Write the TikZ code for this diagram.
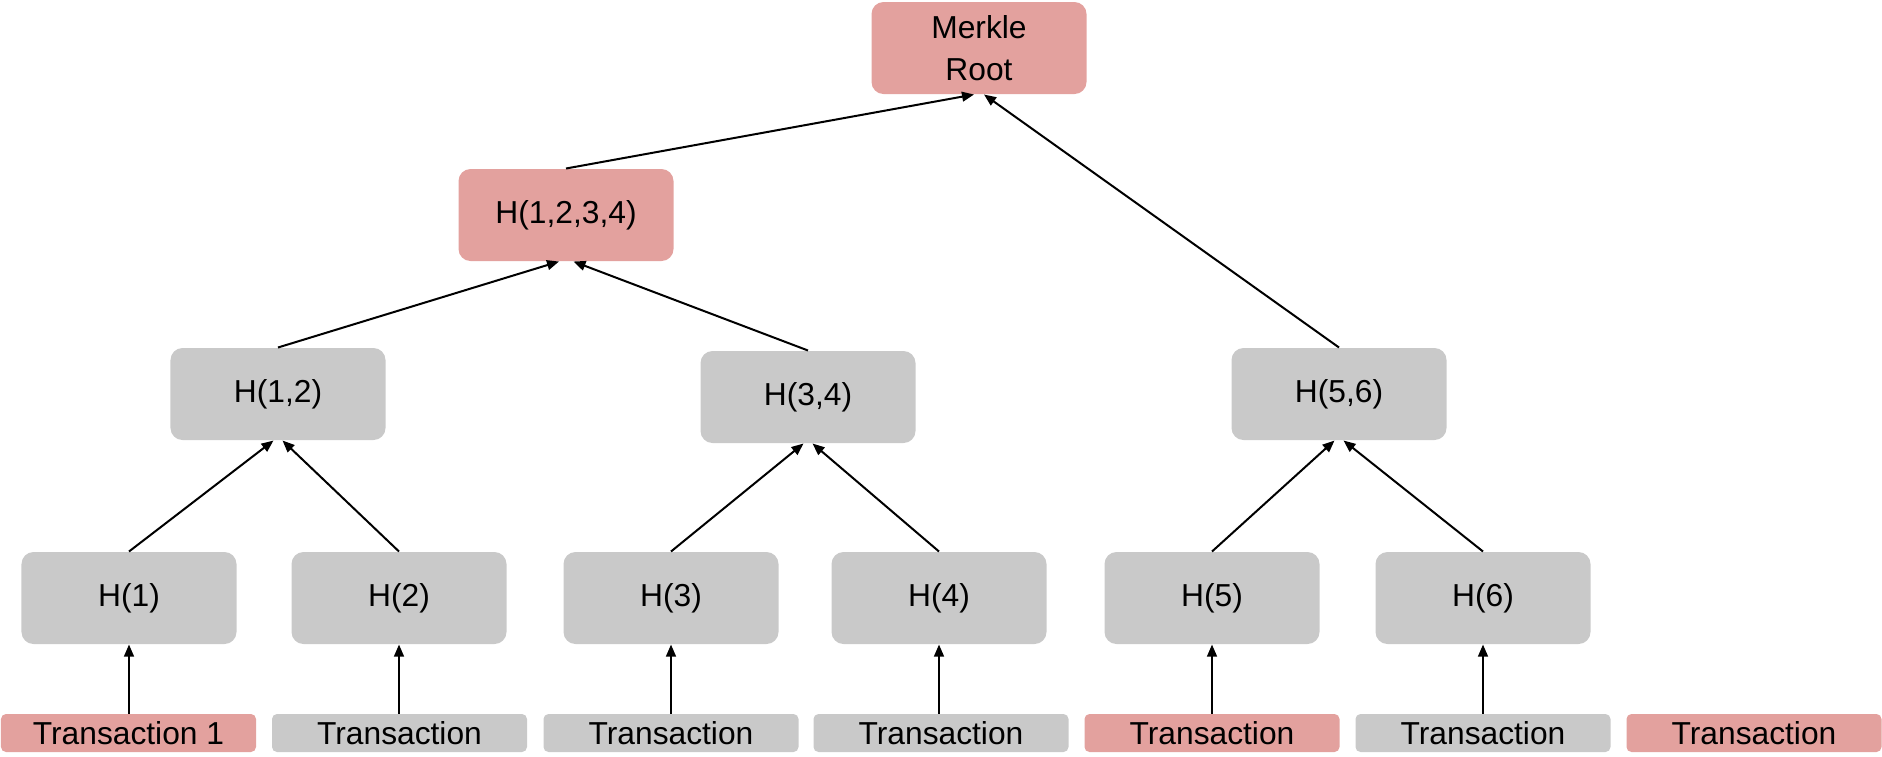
\documentclass[tikz,border=0pt]{standalone}
\usepackage{fontspec}
\setmainfont{Liberation Sans}
\usetikzlibrary{arrows.meta}
\definecolor{pinkc}{RGB}{227,161,158}
\definecolor{greyc}{RGB}{201,201,201}
\begin{document}
\begin{tikzpicture}[x=0.4pt,y=-0.4pt,
  hbox/.style={rounded corners=4.8pt, minimum width=86pt, minimum height=36.8pt, inner sep=0pt, font=\fontsize{12.7}{16.8}\selectfont, align=center},
  pinkbox/.style={hbox, fill=pinkc},
  greybox/.style={hbox, fill=greyc},
  tx/.style={rounded corners=2pt, minimum width=102pt, minimum height=15.2pt, inner sep=0pt, font=\fontsize{12.7}{15}\selectfont},
  pinktx/.style={tx, fill=pinkc},
  greytx/.style={tx, fill=greyc},
  arr/.style={-{Triangle[length=4.8pt,width=3.9pt]}, line width=0.8pt}]
\useasboundingbox (0,0) rectangle (1882,756);

\node[pinkbox] (mr) at (979,48) {Merkle\\Root};
\node[pinkbox] (h1234) at (566,215) {H(1,2,3,4)};
\node[greybox] (h12) at (278,394) {H(1,2)};
\node[greybox] (h34) at (808,397) {H(3,4)};
\node[greybox] (h56) at (1339,394) {H(5,6)};

\node[greybox] (h1) at (129,598) {H(1)};
\node[greybox] (h2) at (399,598) {H(2)};
\node[greybox] (h3) at (671,598) {H(3)};
\node[greybox] (h4) at (939,598) {H(4)};
\node[greybox] (h5) at (1212,598) {H(5)};
\node[greybox] (h6) at (1483,598) {H(6)};

\node[pinktx] (t1) at (128.5,733) {Transaction 1};
\node[greytx] (t2) at (399.5,733) {Transaction};
\node[greytx] (t3) at (671,733) {Transaction};
\node[greytx] (t4) at (941,733) {Transaction};
\node[pinktx] (t5) at (1212,733) {Transaction};
\node[greytx] (t6) at (1483,733) {Transaction};
\node[pinktx] (t7) at (1754,733) {Transaction};

\draw[arr] (h1.south |- t1.north) -- (h1.south);
\draw[arr] (h2.south |- t2.north) -- (h2.south);
\draw[arr] (h3.south |- t3.north) -- (h3.south);
\draw[arr] (h4.south |- t4.north) -- (h4.south);
\draw[arr] (h5.south |- t5.north) -- (h5.south);
\draw[arr] (h6.south |- t6.north) -- (h6.south);

\draw[arr] (h1.north) -- ([xshift=-1.8pt]h12.south);
\draw[arr] (h2.north) -- ([xshift=1.8pt]h12.south);
\draw[arr] (h3.north) -- ([xshift=-1.8pt]h34.south);
\draw[arr] (h4.north) -- ([xshift=1.8pt]h34.south);
\draw[arr] (h5.north) -- ([xshift=-1.8pt]h56.south);
\draw[arr] (h6.north) -- ([xshift=1.8pt]h56.south);

\draw[arr] (h12.north) -- ([xshift=-2.8pt]h1234.south);
\draw[arr] (h34.north) -- ([xshift=3pt]h1234.south);

\draw[arr] (h1234.north) -- ([xshift=-2pt]mr.south);
\draw[arr] (h56.north) -- ([xshift=2pt]mr.south);
\end{tikzpicture}
\end{document}
